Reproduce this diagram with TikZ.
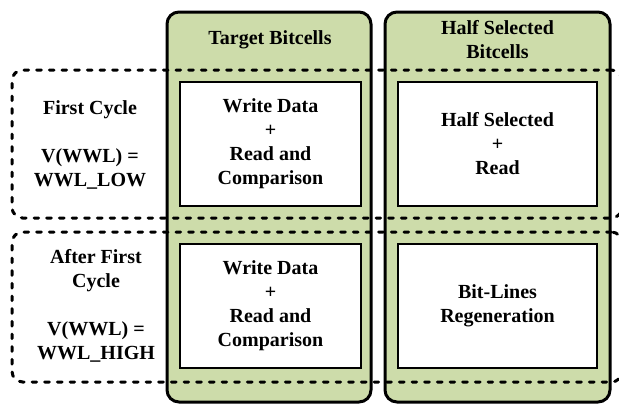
\documentclass[tikz,border=0pt]{standalone}
\usepackage{fontspec}
\setmainfont{Liberation Serif}
\usepackage{xcolor}
\usetikzlibrary{positioning}
\definecolor{cellgreen}{RGB}{205,220,170}

\begin{document}
\begin{tikzpicture}[x=0.75pt, y=-0.75pt,
    column/.style={draw, line width=2.25pt, fill=cellgreen, rounded corners=9pt, inner sep=0pt},
    stepbox/.style={draw, line width=1.5pt, fill=white, align=center, inner sep=0pt,
        font=\fontsize{15}{18}\selectfont\bfseries},
    phase/.style={draw, line width=2.25pt, dash pattern=on 3.5pt off 6pt, line cap=round,
        rounded corners=8pt, inner sep=0pt},
    lbl/.style={font=\fontsize{15}{18}\selectfont\bfseries, align=center}]
    \clip (0,0) rectangle (619,404);

    % Spalten
    \node[column, minimum width=153pt, minimum height=292.5pt] (target) at (269,207) {};
    \node[column, minimum width=168.75pt, minimum height=292.5pt] (half) at (497.5,207) {};
    \node[lbl] (targetT) at (270,40) {Target Bitcells};
    \node[lbl] (halfT) at (497.5,39.5) {Half Selected\\Bitcells};

    % Operationen
    \node[stepbox, minimum width=135.75pt, minimum height=93pt] (tA) at (270.5,144)
        {Write Data\\+\\Read and\\Comparison};
    \node[stepbox, minimum width=135.75pt, minimum height=93pt] (tB) at (270.5,306)
        {Write Data\\+\\Read and\\Comparison};
    \node[stepbox, minimum width=149.25pt, minimum height=93pt] (hA) at (497.5,144)
        {Half Selected\\+\\Read};
    \node[stepbox, minimum width=149.25pt, minimum height=93pt] (hB) at (497.5,306)
        {Bit-Lines\\Regeneration};

    % Zyklen
    \node[phase, minimum width=457.5pt, minimum height=111pt] (first) at (317,144) {};
    \node[phase, minimum width=457.5pt, minimum height=112.5pt] (after) at (317,307) {};
    \node[lbl] (firstT) at (90,144.5) {First Cycle\\[18pt]V(WWL) =\\WWL\_LOW};
    \node[lbl] (afterT) at (96,306) {After First\\Cycle\\[18pt]V(WWL) =\\WWL\_HIGH};
\end{tikzpicture}
\end{document}
